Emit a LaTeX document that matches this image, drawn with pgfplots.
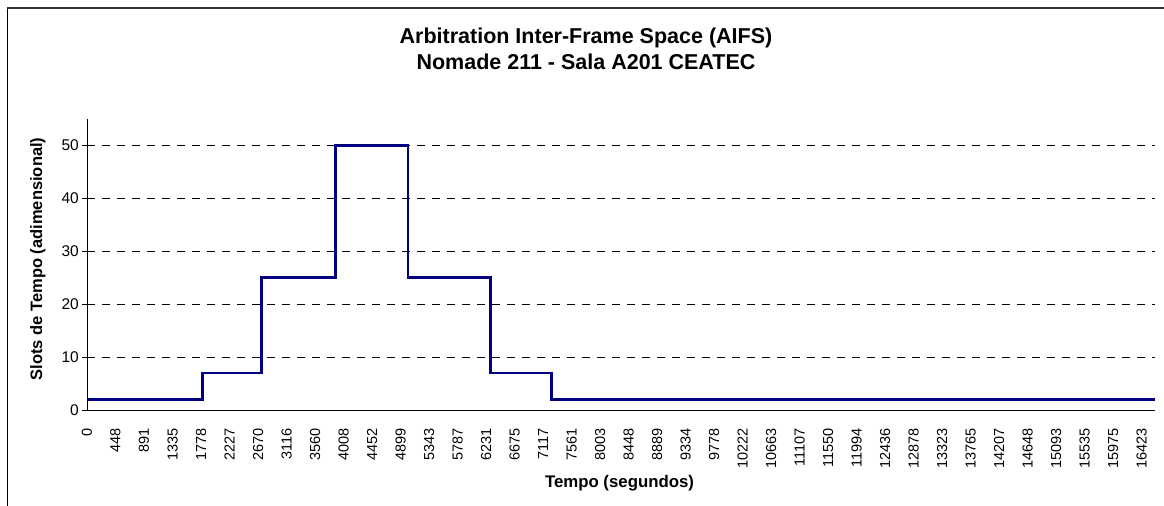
\documentclass[border=0pt]{standalone}
\usepackage{fontspec}
\setmainfont{Liberation Sans}
\usepackage{pgfplots}
\pgfplotsset{compat=1.18}
\definecolor{navyline}{RGB}{0,0,128}
\begin{document}
\begin{tikzpicture}
\begin{axis}[
  scale only axis, width=1068bp, height=291bp,
  xmin=0, xmax=37.47, ymin=0, ymax=55,
  axis lines*=left,
  axis line style={black, line width=0.8bp},
  xtick={0,...,37},
  xticklabels={0,448,891,1335,1778,2227,2670,3116,3560,4008,4452,4899,5343,5787,6231,6675,7117,7561,8003,8448,8889,9334,9778,10222,10663,11107,11550,11994,12436,12878,13323,13765,14207,14648,15093,15535,15975,16423},
  ytick={0,10,20,30,40,50},
  tick align=outside, major tick length=5bp,
  xtick style={draw=none},
  ytick style={black, line width=0.8bp},
  ymajorgrids,
  grid style={black, line width=0.8bp, dash pattern=on 8bp off 7bp},
  /pgf/number format/assume math mode=true,
  xticklabel style={rotate=90, anchor=east, inner sep=0pt, font=\fontsize{14.5bp}{17bp}\selectfont},
  yticklabel style={anchor=east, inner sep=0pt, font=\fontsize{15.5bp}{18bp}\selectfont},
  xticklabel shift=13bp,
  yticklabel shift=3bp,
  xlabel={Tempo (segundos)},
  ylabel={Slots de Tempo (adimensional)},
  xlabel style={at={(axis description cs:0.4986,-0.268)}, anchor=base, font=\bfseries\fontsize{16.8bp}{19bp}\selectfont},
  ylabel style={at={(axis description cs:-0.046,0.519)}, anchor=center, font=\bfseries\fontsize{16.5bp}{19bp}\selectfont},
]
\addplot[navyline, line width=2.7bp, line join=miter] coordinates {
  (0,2) (4.04,2) (4.04,7) (6.11,7) (6.11,25) (8.72,25) (8.72,50)
  (11.26,50) (11.26,25) (14.15,25) (14.15,7) (16.29,7) (16.29,2) (37.47,2)
};
\end{axis}
\node[anchor=base, font=\bfseries\fontsize{21.5bp}{25bp}\selectfont] at (499bp,366bp) {Arbitration Inter-Frame Space (AIFS)};
\node[anchor=base, font=\bfseries\fontsize{21.5bp}{25bp}\selectfont] at (499bp,340bp) {Nomade 211 - Sala A201 CEATEC};
\draw[black, line width=1bp] (-79bp,-96bp) -- (-79bp,402bp);
\draw[black!80, line width=2bp] (-80bp,402bp) -- (1077bp,402bp);
\pgfresetboundingbox
\useasboundingbox (-87bp,-96bp) rectangle (1077bp,410bp);
\end{tikzpicture}
\end{document}
